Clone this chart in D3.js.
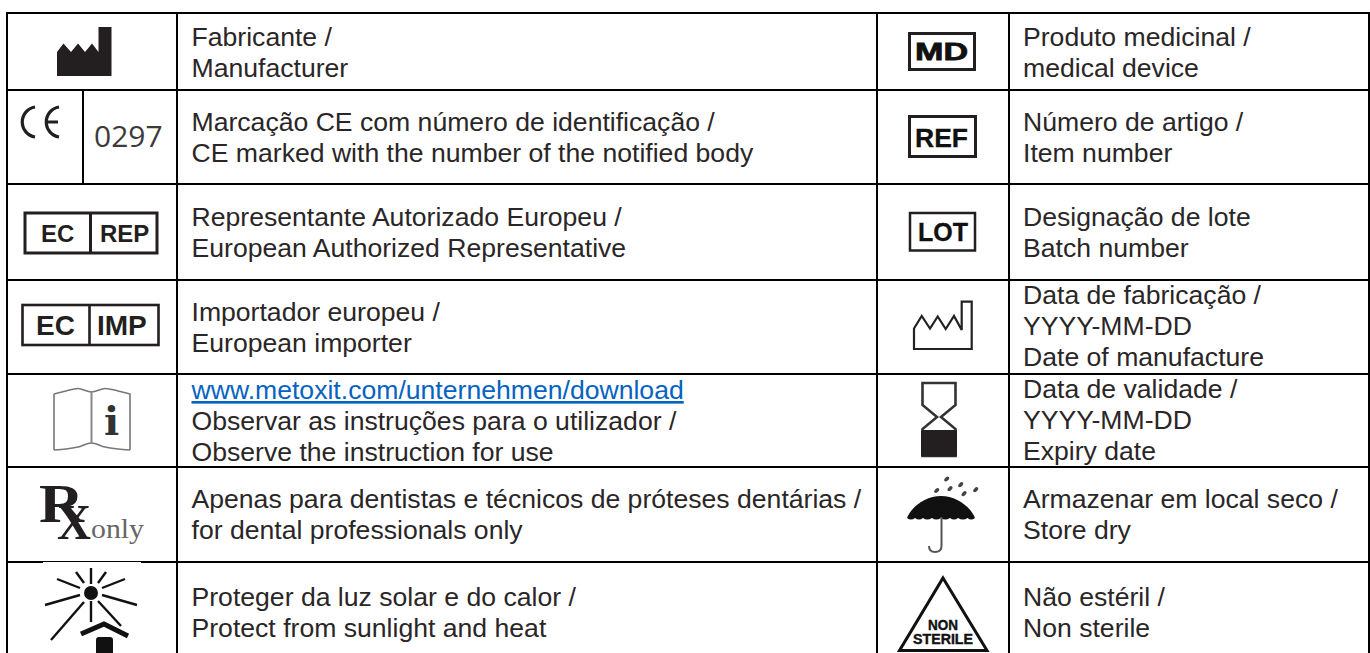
<!DOCTYPE html>
<html><head><meta charset="utf-8">
<script src="https://cdn.jsdelivr.net/npm/d3@7/dist/d3.min.js"></script>
<style>html,body{margin:0;padding:0;background:#fff;overflow:hidden}svg{display:block}</style>
</head><body><div id="c"></div>
<script>
const leftLabels = [
 ["Fabricante /","Manufacturer"],
 ["Marcação CE com número de identificação /","CE marked with the number of the notified body"],
 ["Representante Autorizado Europeu /","European Authorized Representative"],
 ["Importador europeu /","European importer"],
 ["www.metoxit.com/unternehmen/download","Observar as instruções para o utilizador /","Observe the instruction for use"],
 ["Apenas para dentistas e técnicos de próteses dentárias /","for dental professionals only"],
 ["Proteger da luz solar e do calor /","Protect from sunlight and heat"]];
const rightLabels = [
 ["Produto medicinal /","medical device"],
 ["Número de artigo /","Item number"],
 ["Designação de lote","Batch number"],
 ["Data de fabricação /","YYYY-MM-DD","Date of manufacture"],
 ["Data de validade /","YYYY-MM-DD","Expiry date"],
 ["Armazenar em local seco /","Store dry"],
 ["Não estéril /","Non sterile"]];
const leftFirstBaseline = [46,131,226,321,399,508,606];
const rightFirstBaseline = [46,131,226,304,398,508,606];
const rowEdges = [13,90,184,280,374,467,562];
const columnEdges = [7,177,877,1009,1369];
const INK = "#231f20";

const svg = d3.select("#c").append("svg").attr("width",1370).attr("height",653);
svg.append("rect").attr("width",1370).attr("height",653).attr("fill","#fff");

// ---- table text
function column(labels, firsts, x){
  const lines = labels.flatMap((l,i)=>l.map((t,j)=>({t,y:firsts[i]+j*30.8})));
  svg.append("g").selectAll("text").data(lines).join("text")
    .attr("x",x).attr("y",d=>d.y)
    .attr("font-family","'Liberation Sans',Arial,sans-serif").attr("font-size",26.6)
    .attr("fill",d=>d.t.startsWith("www")?"#0563c1":"#2a2627")
    .attr("text-decoration",d=>d.t.startsWith("www")?"underline":null)
    .text(d=>d.t);
}
column(leftLabels,leftFirstBaseline,191.5);
column(rightLabels,rightFirstBaseline,1023);

// ---- grid
const grid = svg.append("g").attr("stroke","#000").attr("stroke-width",2);
grid.selectAll("line.h").data(rowEdges).join("line").attr("class","h")
  .attr("x1",6).attr("x2",1370).attr("y1",d=>d).attr("y2",d=>d);
grid.selectAll("line.v").data(columnEdges).join("line").attr("class","v")
  .attr("x1",d=>d).attr("x2",d=>d).attr("y1",12).attr("y2",653);
grid.append("line").attr("x1",83).attr("x2",83).attr("y1",90).attr("y2",184);

// ---- helpers for the symbols
const line = d3.line();
const ic = svg.append("g");
function poly(pts,o={}){
  return ic.append("path").attr("d",line(pts)+(o.close?"Z":""))
   .attr("fill",o.fill||"none").attr("stroke",o.stroke===undefined?INK:o.stroke)
   .attr("stroke-width",o.w===undefined?2:o.w).attr("stroke-linejoin",o.join||"miter").attr("stroke-linecap",o.cap||"butt");
}
function box(x,y,w,h,sw){
  ic.append("rect").attr("x",x).attr("y",y).attr("width",w).attr("height",h)
   .attr("fill","none").attr("stroke",INK).attr("stroke-width",sw);
}
function label(t,x,y,size,o={}){
  const e = ic.append("text").attr("x",x).attr("y",y).attr("font-size",size)
    .attr("font-family",o.font||"'Liberation Sans',Arial,sans-serif")
    .attr("font-weight",o.weight||"bold").attr("fill",o.fill||INK).text(t);
  if(o.len) e.attr("textLength",o.len).attr("lengthAdjust","spacingAndGlyphs");
  if(o.stroke) e.attr("stroke",o.fill||INK).attr("stroke-width",o.stroke);
  return e;
}

// factory
poly([[57,76],[57,52],[63.5,43.5],[71,52],[78,43.5],[85,52],[92,43.5],[98.5,52],[98.5,27],[111.5,27],[111.5,76]],{fill:INK,stroke:"none",close:true});

// CE mark
ic.append("path").attr("d","M35,107 A15.2,15.2 0 0 0 35,137").attr("fill","none").attr("stroke",INK).attr("stroke-width",3.2);
ic.append("path").attr("d","M59,107 A15.2,15.2 0 0 0 59,137 M46,122 H58").attr("fill","none").attr("stroke",INK).attr("stroke-width",3.2);
label("0297",94,147,30,{font:"'Open Sans',sans-serif",weight:"normal",fill:"#3d3a3b"});

// EC REP
box(25,213,132,40,3);
poly([[90.5,212],[90.5,254]],{w:3});
label("EC",41,242,24); label("REP",100,242,24);

// EC IMP
box(22.5,305,136,40,2.6);
poly([[89.5,304],[89.5,346]],{w:2.6});
label("EC",36,335,28); label("IMP",97,335,28);

// instructions book
const bookLine = d3.line().curve(d3.curveCatmullRom);
ic.append("path").attr("d",bookLine([[54,394],[66,391],[78,388.5],[91.5,392],[105,388.5],[118,391],[130,394]])
   +"V450 " ).attr("fill","none").attr("stroke","#777").attr("stroke-width",1.6);
ic.append("path").attr("d",bookLine([[54,450],[66,449],[78,447],[91.5,443],[105,447],[118,449],[130,450]])).attr("fill","none").attr("stroke","#777").attr("stroke-width",1.6);
poly([[54,394],[54,450]],{stroke:"#777",w:1.6});
poly([[91.5,392],[91.5,443]],{stroke:"#888",w:2});
label("i",104,435,40,{font:"'DejaVu Serif',serif",fill:"#333"});

// Rx only
label("R",39,522,54,{font:"'Liberation Serif',serif",len:45});
label("X",57,539,50,{font:"'Liberation Serif',serif",len:34});
label("only",91,538,27,{font:"'Liberation Serif',serif",weight:"normal",fill:"#666",len:53});

// white nick under row line
ic.append("rect").attr("x",43).attr("y",562).attr("width",98).attr("height",1.4).attr("fill","#fff");

// sun / heat
ic.append("circle").attr("cx",91).attr("cy",593).attr("r",7).attr("fill","#111");
const rays = [[[91,568],[91,584]],[[76,572],[84,583]],[[106,572],[98,583]],[[57,579],[80,588]],[[125,579],[102,588]],
 [[45,605],[80,595]],[[137,605],[102,595]],[[51,640],[84,602]],[[91,601],[91,622]],[[121,626],[98,601]]];
rays.forEach(r=>poly(r,{stroke:"#111",w:2.4}));
poly([[81,634],[104,624],[128,636]],{stroke:"#111",w:5});
ic.append("rect").attr("x",96).attr("y",637).attr("width",17).attr("height",18).attr("rx",3).attr("fill","#111");

// MD, REF, LOT
box(909.5,33.5,65,36,3);
label("MD",915,60,24,{len:53,stroke:.8,fill:"#111"});
box(909.5,116.5,66,40,3);
label("REF",915,147,26,{len:53,fill:"#111",stroke:.3});
box(910,213,65,37.5,2.5);
label("LOT",918,241,26,{len:50,fill:"#111",stroke:.3});

// date of manufacture
poly([[914,349],[914,328.5],[921.7,316],[930,328.5],[937.7,316.5],[945.7,329],[954,316],[961.7,330],[961.7,301.7],[971.7,301.7],[971.7,349]],{close:true,w:2.2,stroke:"#222"});

// hourglass
poly([[922.5,383],[955.5,383],[955.5,405],[941,417],[955.5,429],[955.5,456],[922.5,456],[922.5,429],[937,417],[922.5,405]],{close:true,w:2.6,stroke:"#333"});
ic.append("rect").attr("x",921).attr("y",430).attr("width",36).attr("height",26.5).attr("rx",1).attr("fill",INK);

// umbrella
ic.append("path").attr("d","M907,518 C912,506 926,496 941,496 C956,496 970,506 975,518 Q971,521 967.5,518 Q963,521 958,518 Q954,521 950,518 Q945,521 941,518 Q936,521 932,518 Q927,521 923,518 Q919,521 915,518 Q911,521 907,518Z").attr("fill","#111");
ic.append("path").attr("d","M941.5,517 V546 Q941.5,552 935,552 Q929,552 929,546").attr("fill","none").attr("stroke","#555").attr("stroke-width",2);
const drops = [[946.7,479],[936.7,490.5],[950,488.7],[960.7,484.7],[964,493.7],[975.7,489.7]];
ic.selectAll("ellipse").data(drops).join("ellipse")
  .attr("cx",d=>d[0]).attr("cy",d=>d[1]).attr("rx",3).attr("ry",1.8)
  .attr("transform",d=>`rotate(-45 ${d[0]} ${d[1]})`).attr("fill","#444");

// non sterile
poly([[943,578],[987,650.5],[899.5,650.5]],{close:true,w:3,stroke:"#111"});
label("NON",928,630,14,{len:30,fill:"#111",stroke:.4});
label("STERILE",913,644,14,{len:60,fill:"#111",stroke:.4});
</script></body></html>
